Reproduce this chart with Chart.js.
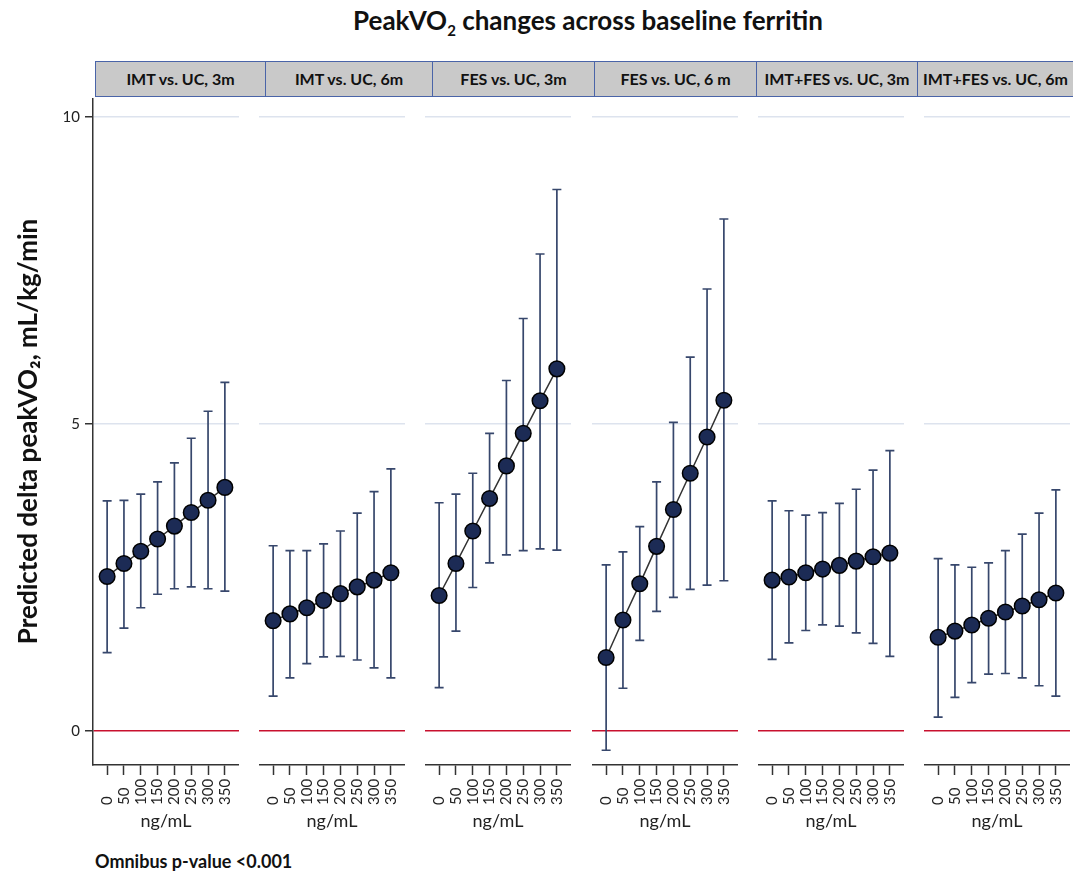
<!DOCTYPE html>
<html>
<head>
<meta charset="utf-8">
<script src="https://cdn.jsdelivr.net/npm/chart.js@4.4.1/dist/chart.umd.min.js"></script>
<style>
  body { margin: 0; background: #fff; font-family: Lato, sans-serif; }
  #wrap { position: relative; width: 1073px; height: 876px; overflow: hidden; }
  canvas { position: absolute; }
  .title { position: absolute; top: 4px; left: 588px; transform: translateX(-50%); white-space: nowrap;
           font-weight: bold; font-size: 26px; color: #111; }
  .title sub { font-size: 15px; }
  .strip { position: absolute; top: 61px; height: 36px; background: #c9c9c9; box-sizing: border-box;
           border-top: 1px solid #4a64a8; border-bottom: 1px solid #4a64a8; border-left: 1px solid #4a64a8;
           font-weight: bold; font-size: 16px; line-height: 34px; text-align: center; color: #111; white-space: nowrap; }
  .note { position: absolute; left: 95px; top: 850px; font-weight: bold; font-size: 18px; color: #111; }
</style>
</head>
<body>
<div id="wrap">
  <div class="title">PeakVO<sub>2</sub> changes across baseline ferritin</div>
  <div class="note">Omnibus p-value &lt;0.001</div>
</div>
<script>
// baseline ferritin, ng/mL
const ferritin = [0, 50, 100, 150, 200, 250, 300, 350];
const yTicks = [0, 5, 10];

const panelNames = ['IMT vs. UC, 3m', 'IMT vs. UC, 6m', 'FES vs. UC, 3m', 'FES vs. UC, 6 m', 'IMT+FES vs. UC, 3m', 'IMT+FES vs. UC, 6m'];

// predicted delta peakVO2 and 95% CI per panel
const imt3m      = [2.52, 2.73, 2.93, 3.13, 3.34, 3.56, 3.76, 3.97];
const imt3mLow   = [1.28, 1.68, 2.01, 2.23, 2.32, 2.35, 2.32, 2.28];
const imt3mHigh  = [3.75, 3.76, 3.86, 4.06, 4.37, 4.77, 5.21, 5.68];

const imt6m      = [1.80, 1.91, 2.01, 2.13, 2.24, 2.35, 2.46, 2.58];
const imt6mLow   = [0.57, 0.87, 1.10, 1.21, 1.22, 1.16, 1.03, 0.87];
const imt6mHigh  = [3.02, 2.94, 2.94, 3.05, 3.26, 3.55, 3.90, 4.27];

const fes3m      = [2.21, 2.73, 3.26, 3.79, 4.32, 4.85, 5.38, 5.90];
const fes3mLow   = [0.71, 1.63, 2.34, 2.74, 2.87, 2.94, 2.97, 2.95];
const fes3mHigh  = [3.72, 3.86, 4.20, 4.85, 5.71, 6.72, 7.77, 8.82];

const fes6m      = [1.20, 1.81, 2.40, 3.01, 3.61, 4.20, 4.79, 5.39];
const fes6mLow   = [-0.31, 0.70, 1.48, 1.95, 2.18, 2.31, 2.38, 2.45];
const fes6mHigh  = [2.71, 2.92, 3.33, 4.06, 5.03, 6.09, 7.20, 8.34];

const both3m     = [2.46, 2.51, 2.58, 2.64, 2.70, 2.77, 2.84, 2.90];
const both3mLow  = [1.17, 1.44, 1.64, 1.73, 1.71, 1.60, 1.43, 1.22];
const both3mHigh = [3.75, 3.59, 3.52, 3.56, 3.71, 3.94, 4.25, 4.57];

const both6m     = [1.53, 1.63, 1.73, 1.84, 1.94, 2.04, 2.14, 2.25];
const both6mLow  = [0.23, 0.55, 0.79, 0.93, 0.94, 0.87, 0.74, 0.57];
const both6mHigh = [2.81, 2.71, 2.67, 2.74, 2.94, 3.21, 3.55, 3.93];

const estimates = [imt3m, imt6m, fes3m, fes6m, both3m, both6m];
const lowers = [imt3mLow, imt6mLow, fes3mLow, fes6mLow, both3mLow, both6mLow];
const uppers = [imt3mHigh, imt6mHigh, fes3mHigh, fes6mHigh, both3mHigh, both6mHigh];

// layout
const plotTop = 98;
const plotHeight = 667;
const plotWidth = 146;
const axisHeight = 70;
const yAxisWidth = 93;
const panelLefts = [93, 259, 425, 592, 758, 924];
const stripEdges = [95, 265, 432, 594, 756, 917, 1073];

const wrap = document.getElementById('wrap');

// strip headers
for (let i = 0; i < panelNames.length; i++) {
    const d = document.createElement('div');
    d.className = 'strip';
    d.style.left = stripEdges[i] + 'px';
    d.style.width = (stripEdges[i + 1] - stripEdges[i]) + 'px';
    d.textContent = panelNames[i];
    wrap.appendChild(d);
}

// whiskers under the points
const errorBars = {
    id: 'errorBars',
    beforeDatasetsDraw(chart) {
        const {ctx, scales: {x, y}} = chart;
        const ds = chart.data.datasets[0];
        ctx.save();
        ctx.strokeStyle = '#37476c';
        ctx.lineWidth = 1.7;
        ds.data.forEach((p, j) => {
            const px = x.getPixelForValue(p.x);
            const top = y.getPixelForValue(ds.upper[j]);
            const bot = y.getPixelForValue(ds.lower[j]);
            ctx.beginPath();
            ctx.moveTo(px, top); ctx.lineTo(px, bot);
            ctx.moveTo(px - 4.5, top); ctx.lineTo(px + 4.5, top);
            ctx.moveTo(px - 4.5, bot); ctx.lineTo(px + 4.5, bot);
            ctx.stroke();
        });
        ctx.restore();
    }
};

// vertical tick labels, all starting from the same baseline
const xLabels = {
    id: 'xLabels',
    afterDraw(chart) {
        const {ctx, scales: {x}} = chart;
        ctx.save();
        ctx.font = '15px Lato';
        ctx.fillStyle = '#222';
        ctx.textAlign = 'left';
        ctx.textBaseline = 'middle';
        x.ticks.forEach(t => {
            ctx.save();
            ctx.translate(x.getPixelForValue(t.value), x.top + 40);
            ctx.rotate(-Math.PI / 2);
            ctx.fillText(String(t.value), 0, 0);
            ctx.restore();
        });
        ctx.restore();
    }
};

function makePanel(i) {
    const first = i === 0;
    const canvas = document.createElement('canvas');
    canvas.width = (first ? yAxisWidth : 0) + plotWidth;
    canvas.height = plotHeight + axisHeight;
    canvas.style.left = (first ? 0 : panelLefts[i]) + 'px';
    canvas.style.top = plotTop + 'px';
    wrap.appendChild(canvas);

    new Chart(canvas, {
        type: 'line',
        data: {
            datasets: [{
                data: ferritin.map((f, j) => ({x: f, y: estimates[i][j]})),
                lower: lowers[i],
                upper: uppers[i],
                borderColor: '#333',
                borderWidth: 1.5,
                pointRadius: 7.8,
                pointBackgroundColor: '#1c2b55',
                pointBorderColor: '#000',
                pointBorderWidth: 1.5,
                tension: 0
            }]
        },
        options: {
            responsive: false,
            animation: false,
            layout: { padding: 0, autoPadding: false },
            plugins: {
                legend: { display: false },
                tooltip: { enabled: false }
            },
            scales: {
                x: {
                    type: 'linear',
                    min: -42,
                    max: 392,
                    afterBuildTicks: s => { s.ticks = ferritin.map(v => ({value: v})); },
                    ticks: { display: false },
                    grid: { drawOnChartArea: false, drawTicks: true, tickLength: 10, tickColor: '#333', tickWidth: 1.5 },
                    border: { color: '#333', width: 1.5 },
                    title: {
                        display: true,
                        text: 'ng/mL',
                        font: { family: 'Lato', size: 18 },
                        color: '#222',
                        padding: { top: 0, bottom: 3 }
                    },
                    afterFit: s => { s.height = axisHeight; s.paddingLeft = 0; s.paddingRight = 0; }
                },
                y: {
                    min: -0.55,
                    max: 10.31,
                    afterBuildTicks: s => { s.ticks = yTicks.map(v => ({value: v})); },
                    ticks: { display: first, font: { family: 'Lato', size: 15 }, color: '#222', padding: 5 },
                    grid: {
                        color: c => c.tick && c.tick.value === 0 ? '#c8102e' : '#dde3ee',
                        lineWidth: 1.5,
                        drawTicks: first,
                        tickLength: 8,
                        tickColor: '#333',
                        tickWidth: 1.5
                    },
                    border: { display: first, color: '#333', width: 1.5 },
                    title: {
                        display: first,
                        text: 'Predicted delta peakVO₂, mL/kg/min',
                        font: { family: 'Lato', size: 26, weight: 'bold' },
                        color: '#111',
                        padding: { top: 13, bottom: 0 }
                    },
                    afterFit: s => { s.width = first ? yAxisWidth : 0; s.paddingTop = 0; s.paddingBottom = 0; }
                }
            }
        },
        plugins: [errorBars, xLabels]
    });
}

for (let i = 0; i < panelNames.length; i++) {
    makePanel(i);
}
</script>
</body>
</html>
